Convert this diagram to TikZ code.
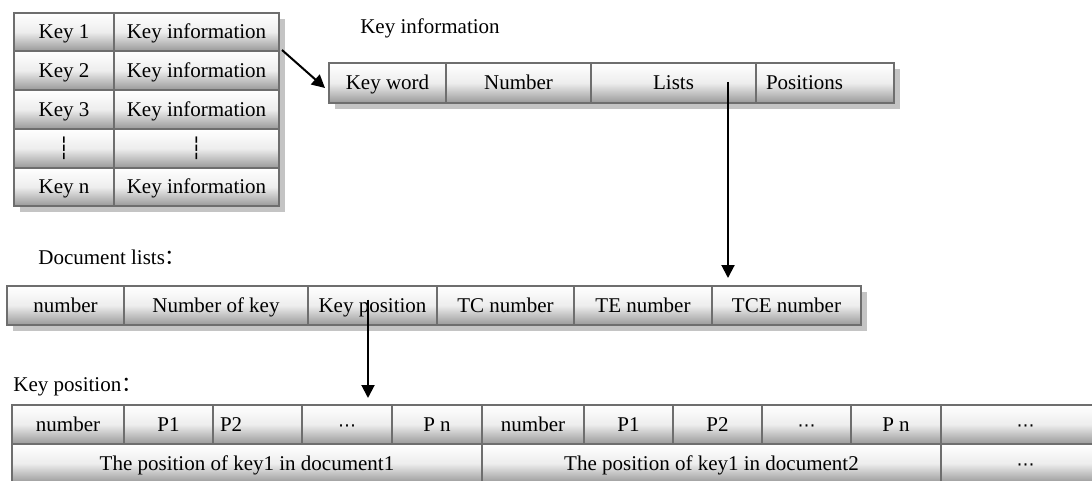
\documentclass[tikz,border=0pt]{standalone}
\usepackage{fontspec}
\setmainfont{Liberation Serif}
\newfontfamily\cjkfont{Noto Sans CJK SC}
\newfontfamily\symfont{DejaVu Sans}
\usetikzlibrary{arrows.meta,calc,backgrounds}

\definecolor{cellline}{HTML}{6E6E6E}
\definecolor{shadowgray}{HTML}{C4C4C4}

\tikzset{
  txt/.style={font=\fontsize{10.5}{12}\selectfont, text height=0.68em, text depth=0.02em},
  cellbox/.style={txt, draw=cellline, line width=0.75pt,
    top color=white, bottom color=gray!80, middle color=gray!14,
    inner sep=0pt, outer sep=0pt},
  caption/.style={txt, inner sep=0pt},
  arr/.style={-{Triangle[length=6.5pt,width=6.5pt]}, line width=1pt},
}

% midline ellipsis used in the open-ended cells
\newcommand\mdots{{\symfont\fontsize{9}{10}\selectfont ⋯}}

% \cellat{name}{x1}{y1}{x2}{y2}{text}: centred cell spanning the given box
\newcommand\cellat[6]{%
  \node[cellbox, minimum width={(#4-(#2))*0.5pt}, minimum height={(#5-(#3))*0.5pt}]
    (#1) at ({(#2+#4)/2},{(#3+#5)/2}) {#6};}
% \cellleft{name}{x1}{y1}{x2}{y2}{inset in pt}{text width in pt}{text}: left-aligned cell
\newcommand\cellleft[8]{%
  \node[cellbox, minimum width={(#4-(#2))*0.5pt}, minimum height={(#5-(#3))*0.5pt},
    inner xsep=#6pt, text width=#7pt, align=left]
    (#1) at ({(#2+#4)/2},{(#3+#5)/2}) {#8};}

\begin{document}
\begin{tikzpicture}[x=0.5pt, y=-0.5pt]
\useasboundingbox (0,0) rectangle (1092,481);
\clip (0,0) rectangle (1092,481);

% ---- key table ----
\cellat{k1}{14}{13}{114}{51}{Key 1}
\cellat{k1i}{114}{13}{279}{51}{Key information}
\cellat{k2}{14}{51}{114}{90}{Key 2}
\cellat{k2i}{114}{51}{279}{90}{Key information}
\cellat{k3}{14}{90}{114}{129}{Key 3}
\cellat{k3i}{114}{90}{279}{129}{Key information}
\cellat{kd}{14}{129}{114}{168}{\symfont ┆}
\cellat{kdi}{114}{129}{279}{168}{\symfont ┆}
\cellat{kn}{14}{168}{114}{206}{Key n}
\cellat{kni}{114}{168}{279}{206}{Key information}

% ---- key information record ----
\node[caption] (tki) at (430,27) {Key information};
\cellat{kw}{329}{63}{446}{103}{Key word}
\cellat{num}{446}{63}{591}{103}{Number}
\cellat{lists}{591}{63}{756}{103}{Lists}
\cellleft{pos}{756}{63}{894}{103}{5}{59}{Positions}

% ---- document lists record ----
\node[caption, anchor=west] (tdl) at (38,258) {Document lists{\cjkfont ：}};
\cellat{dn}{7}{286}{124}{325}{number}
\cellat{dnk}{124}{286}{308}{325}{Number of key}
\cellat{dkp}{308}{286}{437}{325}{Key position}
\cellat{dtc}{437}{286}{574}{325}{TC number}
\cellat{dte}{574}{286}{712}{325}{TE number}
\cellat{dtce}{712}{286}{861}{325}{TCE number}

% ---- key position record ----
\node[caption, anchor=west] (tkp) at (13,385) {Key position{\cjkfont ：}};
\cellat{an1}{12}{405}{124}{444}{number}
\cellat{ap1}{124}{405}{213}{444}{P1}
\cellleft{ap2}{213}{405}{302}{444}{3.5}{37.5}{P2}
\cellat{ad1}{302}{405}{392}{444}{\mdots}
\cellat{apn1}{392}{405}{482}{444}{P n}
\cellat{an2}{482}{405}{584}{444}{number}
\cellat{aq1}{584}{405}{673}{444}{P1}
\cellat{aq2}{673}{405}{762}{444}{P2}
\cellat{ad2}{762}{405}{851}{444}{\mdots}
\cellat{apn2}{851}{405}{941}{444}{P n}
\cellat{ad3}{941}{405}{1110}{444}{\mdots}
\cellat{b1}{12}{444}{482}{483}{The position of key1 in document1}
\cellat{b2}{482}{444}{941}{483}{The position of key1 in document2}
\cellat{b3}{941}{444}{1110}{483}{\mdots}

% ---- drop shadows ----
\begin{scope}[on background layer]
  \fill[shadowgray] ($(k1.north west)+(6,6)$) rectangle ($(kni.south east)+(6,6)$);
  \fill[shadowgray] ($(kw.north west)+(6,6)$) rectangle ($(pos.south east)+(6,6)$);
  \fill[shadowgray] ($(dn.north west)+(6,6)$) rectangle ($(dtce.south east)+(6,6)$);
\end{scope}

% ---- connectors ----
\draw[arr] ($(k1i.south east)+(3,-1)$) -- ($(kw.west)+(-4,5)$);
\coordinate (ls) at ($(lists.center)+(54.5,-1)$);
\draw[arr, shorten >=4pt] (ls) -- (ls |- dtce.north);
\coordinate (ks) at ($(dkp.center)+(-4.5,-6)$);
\draw[arr, shorten >=3.5pt] (ks) -- (ks |- ad1.north);
\end{tikzpicture}
\end{document}
